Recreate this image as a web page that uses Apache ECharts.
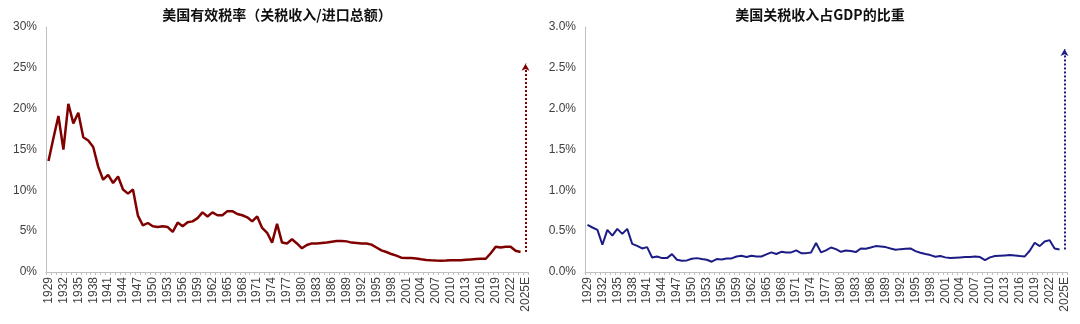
<!DOCTYPE html>
<html>
<head>
<meta charset="utf-8">
<script src="https://cdn.jsdelivr.net/npm/echarts@6/dist/echarts.min.js"></script>
<style>
  html, body { margin: 0; padding: 0; background: #fff; }
  #chart { width: 1080px; height: 324px; }
</style>
</head>
<body>
<div id="chart"></div>
<script>
// Year categories 1929–2024 plus the 2025 estimate
const years = [];
for (let y = 1929; y <= 2024; y++) years.push(String(y));
years.push('2025E');

// Effective tariff rate (customs duties / total imports), %
const effectiveRate = [
  13.6, 16.4, 19.1, 15.0, 20.6, 18.2, 19.5, 16.5, 16.1, 15.3,   // 1929-1938
  12.9, 11.3, 11.9, 10.9, 11.7, 10.1, 9.6, 10.1, 6.9, 5.7,      // 1939-1948
  6.0, 5.6, 5.5, 5.6, 5.5, 4.9, 6.05, 5.6, 6.1, 6.2,            // 1949-1958
  6.6, 7.3, 6.8, 7.3, 6.95, 6.95, 7.45, 7.45, 7.1, 6.95,        // 1959-1968
  6.7, 6.2, 6.8, 5.4, 4.8, 3.6, 5.9, 3.6, 3.5, 4.0,             // 1969-1978
  3.5, 2.9, 3.3, 3.5, 3.5, 3.55, 3.6, 3.7, 3.8, 3.8,            // 1979-1988
  3.75, 3.6, 3.55, 3.5, 3.5, 3.35, 3.0, 2.65, 2.45, 2.2,        // 1989-1998
  2.0, 1.75, 1.72, 1.72, 1.66, 1.55, 1.48, 1.43, 1.4, 1.38,     // 1999-2008
  1.4, 1.45, 1.44, 1.43, 1.5, 1.54, 1.58, 1.62, 1.62, 2.3,      // 2009-2018
  3.1, 3.0, 3.1, 3.1, 2.6, 2.45                                 // 2019-2024
];
const effectiveRate2025E = 25.5;

// Customs duties as a share of GDP, %
const customsGdp = [
  0.577, 0.545, 0.516, 0.333, 0.516, 0.446, 0.528, 0.467, 0.528, 0.345, // 1929-1938
  0.32, 0.288, 0.305, 0.178, 0.19, 0.17, 0.17, 0.219, 0.15, 0.138,      // 1939-1948
  0.142, 0.162, 0.17, 0.158, 0.15, 0.126, 0.158, 0.154, 0.166, 0.166,   // 1949-1958
  0.19, 0.2, 0.183, 0.2, 0.19, 0.19, 0.215, 0.24, 0.22, 0.247,          // 1959-1968
  0.24, 0.24, 0.264, 0.231, 0.231, 0.24, 0.354, 0.24, 0.264, 0.3,       // 1969-1978
  0.28, 0.247, 0.264, 0.256, 0.244, 0.288, 0.284, 0.3, 0.317, 0.313,    // 1979-1988
  0.305, 0.288, 0.272, 0.28, 0.284, 0.288, 0.256, 0.236, 0.22, 0.207,   // 1989-1998
  0.187, 0.195, 0.179, 0.171, 0.175, 0.179, 0.183, 0.183, 0.191, 0.183, // 1999-2008
  0.146, 0.179, 0.195, 0.199, 0.203, 0.207, 0.203, 0.195, 0.191, 0.26,  // 2009-2018
  0.358, 0.317, 0.374, 0.39, 0.288, 0.276                               // 2019-2024
];
const customsGdp2025E = 2.73;

const leftTicks = { min: 0, max: 30, interval: 5 };
const rightTicks = { min: 0, max: 3, interval: 0.5 };

const titles = ['美国有效税率（关税收入/进口总额）', '美国关税收入占GDP的比重'];

const RED = '#800000';
const NAVY = '#1c1c86';
const AXIS = '#bfbfbf';
const LABEL = '#404040';
const FONT = '"Liberation Sans", Arial, sans-serif';

function xAxisCfg(gridIndex) {
  return {
    type: 'category', gridIndex, data: years, boundaryGap: true,
    axisLine: { lineStyle: { color: AXIS, width: 1 } },
    axisTick: { show: true, interval: 0, length: 3, lineStyle: { color: AXIS } },
    axisLabel: { interval: 2, rotate: 90, fontSize: 12, color: LABEL, fontFamily: FONT, margin: 5 },
    splitLine: { show: false }
  };
}
function yAxisCfg(gridIndex, ticks, digits) {
  return {
    type: 'value', gridIndex, min: ticks.min, max: ticks.max, interval: ticks.interval,
    axisLine: { show: true, lineStyle: { color: AXIS, width: 1 } },
    axisTick: { show: false },
    splitLine: { show: false },
    axisLabel: {
      fontSize: 12, color: LABEL, fontFamily: FONT, margin: 9,
      formatter: v => v.toFixed(digits) + '%'
    }
  };
}
function arrow(color, from, to) {
  return {
    silent: true, symbol: ['none', 'arrow'], symbolSize: [6, 7],
    label: { show: false },
    lineStyle: { color, type: 'dotted', width: 2 },
    data: [[{ coord: ['2025E', from] }, { coord: ['2025E', to] }]]
  };
}

const titleStyle = { fontSize: 14, fontWeight: 'bold', color: '#111', fontFamily: '"Noto Sans CJK SC", sans-serif' };

const chart = echarts.init(document.getElementById('chart'), null, { renderer: 'canvas' });
chart.setOption({
  animation: false,
  backgroundColor: '#fff',
  title: [
    { text: titles[0], left: 272, top: 3, textAlign: 'center', textStyle: titleStyle },
    { text: titles[1], left: 815, top: 3, textAlign: 'center', textStyle: titleStyle }
  ],
  grid: [
    { left: 46, right: 552, top: 27, bottom: 52 },
    { left: 585, right: 13, top: 27, bottom: 52 }
  ],
  xAxis: [xAxisCfg(0), xAxisCfg(1)],
  yAxis: [yAxisCfg(0, leftTicks, 0), yAxisCfg(1, rightTicks, 1)],
  series: [
    {
      type: 'line', xAxisIndex: 0, yAxisIndex: 0, data: effectiveRate,
      symbol: 'none', lineStyle: { color: RED, width: 2.5 },
      markLine: arrow(RED, effectiveRate[effectiveRate.length - 1], effectiveRate2025E)
    },
    {
      type: 'line', xAxisIndex: 1, yAxisIndex: 1, data: customsGdp,
      symbol: 'none', lineStyle: { color: NAVY, width: 2 },
      markLine: arrow(NAVY, customsGdp[customsGdp.length - 1], customsGdp2025E)
    }
  ]
});
</script>
</body>
</html>
